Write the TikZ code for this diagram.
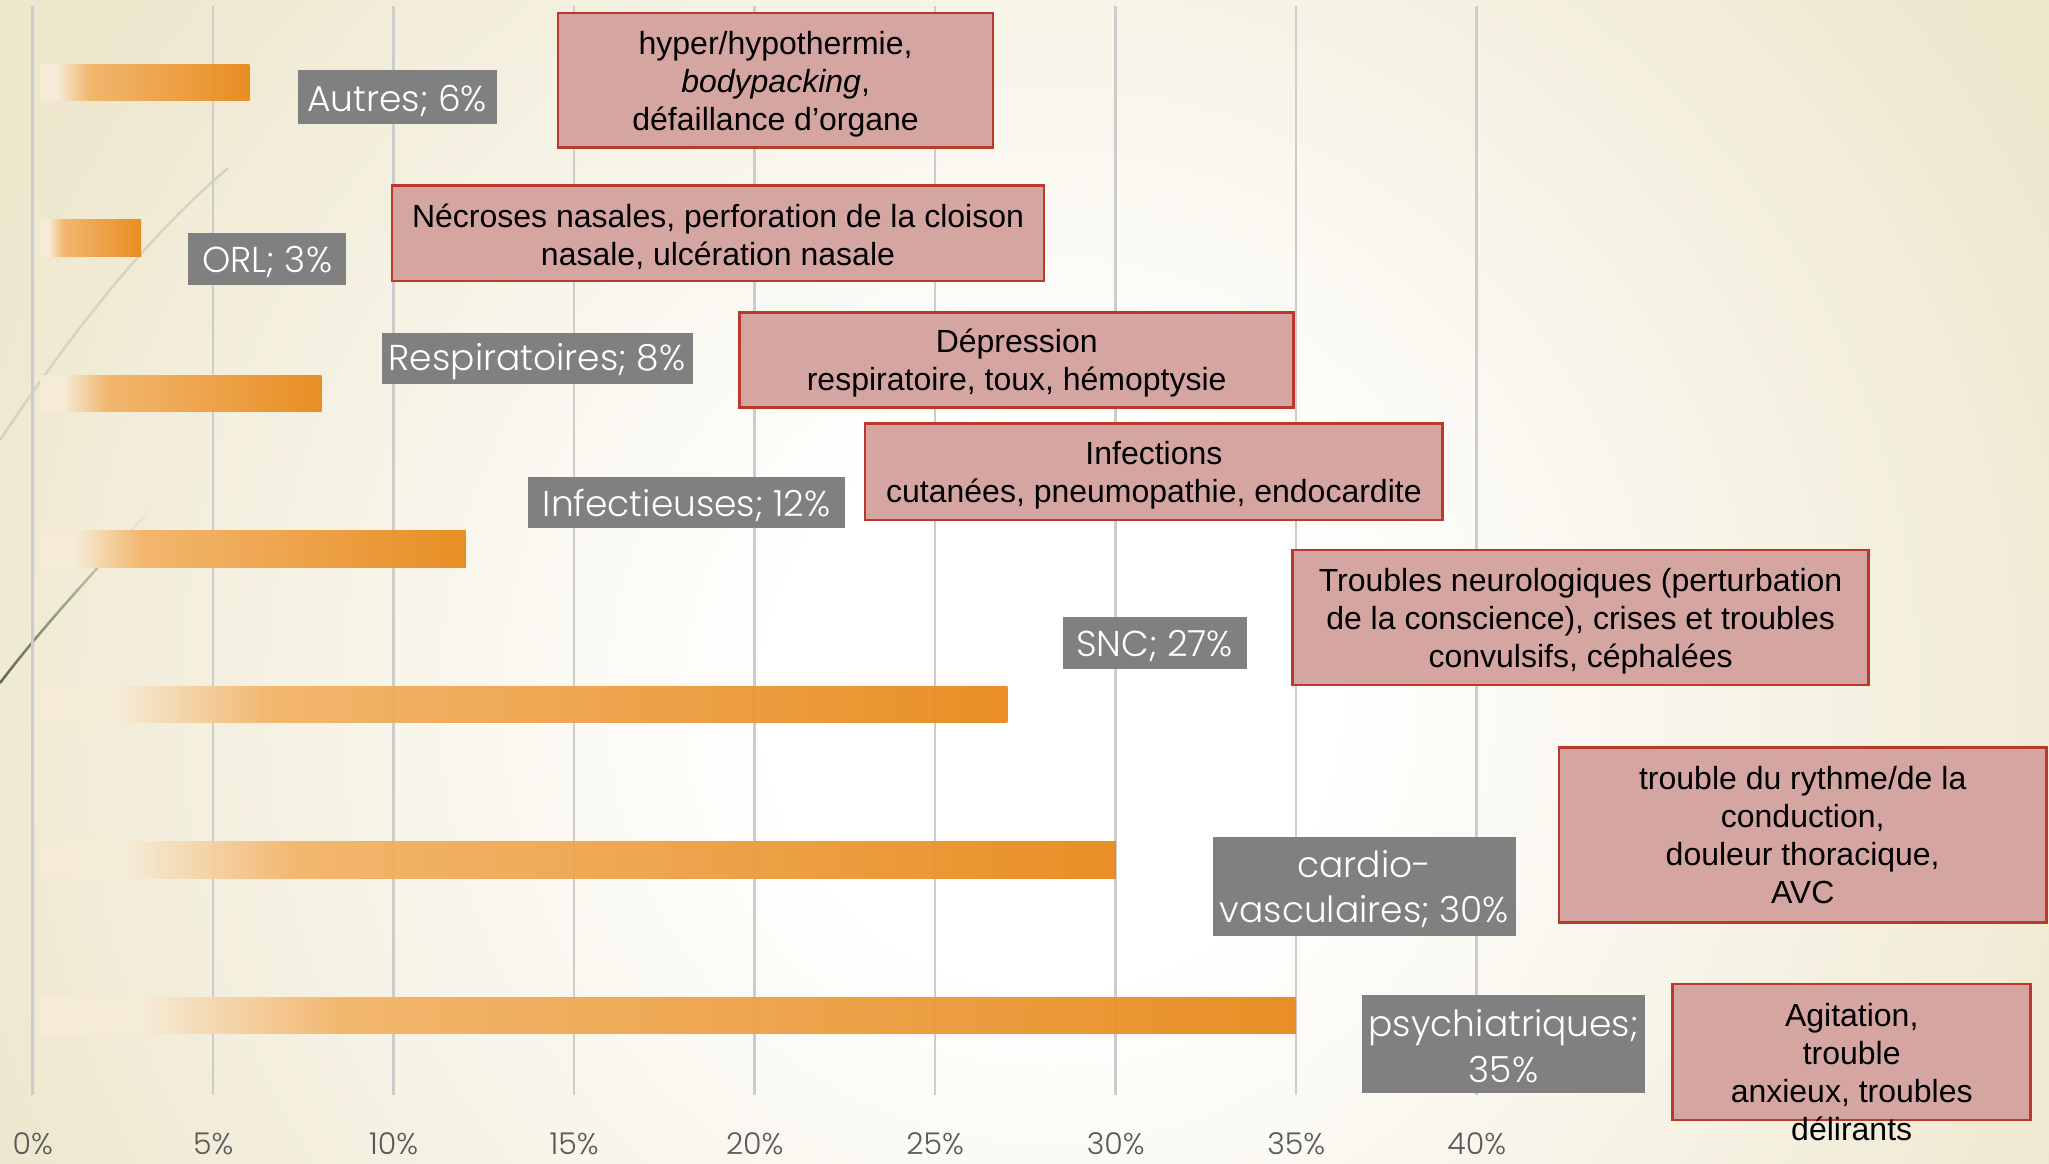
\documentclass[tikz,border=0pt]{standalone}
\usepackage{fontspec}
\setmainfont{Liberation Sans}
\newfontfamily\gothic{Poppins Light}
\usetikzlibrary{fadings}
\definecolor{beige}{RGB}{238,231,206}
\definecolor{gridgray}{RGB}{204,204,204}
\definecolor{barpale}{RGB}{246,236,216}
\definecolor{barlight}{RGB}{242,180,104}
\definecolor{bardark}{RGB}{232,137,26}
\definecolor{catgray}{RGB}{128,128,128}
\definecolor{notefill}{RGB}{213,165,162}
\definecolor{noteline}{RGB}{185,58,42}
\definecolor{ticktext}{RGB}{89,89,89}
\definecolor{curvelight}{RGB}{212,212,192}
\definecolor{curvedark}{RGB}{90,105,70}
\pgfdeclareradialshading{glow}{\pgfpoint{0bp}{0bp}}{color(0bp)=(white); color(6bp)=(white); color(25bp)=(beige); color(50bp)=(beige)}
\pgfdeclarehorizontalshading{barfade}{100bp}{color(0bp)=(barpale); color(25bp)=(barpale); color(29bp)=(barpale); color(37bp)=(barlight); color(75bp)=(bardark); color(100bp)=(bardark)}
\newcommand\catgap{\rule{0pt}{33pt}}
\newcommand\notegap{\rule{0pt}{30.5pt}}
\tikzset{
  grid line/.style = {draw=gridgray, line width=2.5},
  bar/.style = {shading=barfade, opacity=.95},
  cat/.style = {fill=catgray, text=white, inner sep=0, align=center,
    font=\gothic\fontsize{36}{45.7}\selectfont},
  note/.style = {fill=notefill, draw=noteline, line width=2.5, inner sep=0,
    align=center, font=\fontsize{32}{37.9}\selectfont},
  note text/.style = {align=center, font=\fontsize{32}{37.9}\selectfont},
  tick/.style = {text=ticktext, inner sep=0, font=\gothic\fontsize{30}{36}\selectfont}
}

\begin{document}
\begin{tikzpicture}[x=1pt,y=-1pt]
  \useasboundingbox (0,0) rectangle (2049,1163);
  \begin{scope}
    \clip (0,0) rectangle (2049,1163);
    \shade[shading=glow] (-100,-450) rectangle (2200,1850);
  \end{scope}
  \draw[curvelight, line width=2.5] (0,440) .. controls (80,320) and (150,235) .. (228,168);
  \draw[curvedark, line width=2.5, path fading=north] (0,683) .. controls (40,630) and (90,576) .. (150,510);

  \foreach \p [count=\i from 0] in {0,5,...,40} {
    \draw[grid line] ({32.7+36.1*\p},6) -- ({32.7+36.1*\p},1095);
    \node[tick] (tick\i) at ({32.7+36.1*\p},1144) {\p\%};
  }
  \foreach \v/\r in {6/0,3/1,8/2,12/3,27/4,30/5,35/6}
    \shade[bar] (40,{64+155.5*\r}) rectangle ({32.7+36.1*\v},{100.6+155.5*\r});

  \node[cat, minimum width=199, minimum height=54] (autres) at (397,97.4) {\catgap Autres; 6\%};
  \node[cat, minimum width=158, minimum height=52] (orl) at (267.2,258.7) {\catgap ORL; 3\%};
  \node[cat, minimum width=311, minimum height=51] (resp) at (537,358.7) {\catgap Respiratoires; 8\%};
  \node[cat, minimum width=317.5, minimum height=51] (infect) at (686.7,502.5) {\catgap Infectieuses; 12\%};
  \node[cat, minimum width=184, minimum height=52] (snc) at (1154.6,642.9) {\catgap SNC; 27\%};
  \node[cat, minimum width=303, minimum height=99] (cardio) at (1364.3,886) {\catgap cardio-\\vasculaires; 30\%};
  \node[cat, minimum width=283.6, minimum height=98] (psy) at (1503.5,1043.5) {\catgap psychiatriques;\\35\%};

  \node[note, minimum width=435, minimum height=134.6] (autresNote) at (775.6,80.4)
    {\notegap hyper/hypothermie,\\\textit{bodypacking},\\défaillance d’organe};
  \node[note, minimum width=652, minimum height=95.4] (orlNote) at (718,233.3)
    {\notegap Nécroses nasales, perforation de la cloison\\nasale, ulcération nasale};
  \node[note, minimum width=554, minimum height=95.4] (respNote) at (1016.7,360)
    {\notegap Dépression\\respiratoire, toux, hémoptysie};
  \node[note, minimum width=577.6, minimum height=96.7] (infectNote) at (1153.9,471.8)
    {\notegap Infections\\cutanées, pneumopathie, endocardite};
  \node[note, minimum width=576, minimum height=134.6] (sncNote) at (1580.6,617.5)
    {\notegap Troubles neurologiques (perturbation\\de la conscience), crises et troubles\\convulsifs, céphalées};
  \node[note, minimum width=487.4, minimum height=175] (cardioNote) at (1802.7,835)
    {trouble du rythme/de la\\conduction,\\douleur thoracique,\\AVC};
  \node[note, minimum width=358, minimum height=136] (psyNote) at (1851.7,1052) {};
  \node[note text] (psyNoteText) at (1851.7,1072)
    {Agitation,\\trouble\\anxieux, troubles\\délirants};
\end{tikzpicture}
\end{document}
